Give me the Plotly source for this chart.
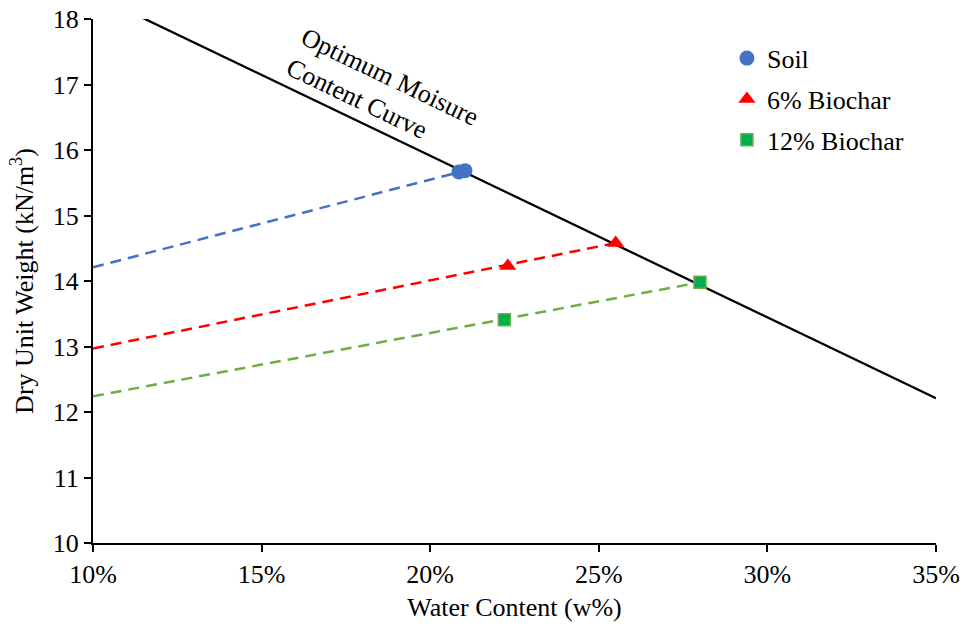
import plotly.graph_objects as go

# Compaction test results: optimum water content (%) and max dry unit weight (kN/m3)
soil_w = [20.85, 21.03]
soil_gd = [15.665, 15.685]
bio6_w = [22.3, 25.5]
bio6_gd = [14.23, 14.58]
bio12_w = [22.2, 28.0]
bio12_gd = [13.41, 13.98]

# Dashed trend lines: value at 10% water content, running up to the last point of each mix
trend_start_w = 10.0
soil_trend_start = 14.21
bio6_trend_start = 12.97
bio12_trend_start = 12.24

# Line of optimums
omc_w = [10.0, 35.0]
omc_gd = [18.38, 12.21]

x_ticks = [10, 15, 20, 25, 30, 35]
y_ticks = [10, 11, 12, 13, 14, 15, 16, 17, 18]

FONT = "Liberation Serif"
FS = 26

BLUE = "#4472C4"
RED = "#FF0000"
GREEN_LINE = "#70AD47"
GREEN_FILL = "#00B050"
DASH = "11px,7px"

fig = go.Figure()

# optimum moisture content curve
fig.add_trace(go.Scatter(x=omc_w, y=omc_gd, mode="lines",
                         line=dict(color="black", width=2.3), showlegend=False,
                         hoverinfo="skip"))

# dashed trend lines
for start, xs, ys, col in [
    (soil_trend_start, soil_w, soil_gd, BLUE),
    (bio6_trend_start, bio6_w, bio6_gd, RED),
    (bio12_trend_start, bio12_w, bio12_gd, GREEN_LINE),
]:
    fig.add_trace(go.Scatter(x=[trend_start_w, xs[-1]], y=[start, ys[-1]], mode="lines",
                             line=dict(color=col, width=2.5, dash=DASH),
                             showlegend=False, hoverinfo="skip"))

# data points
fig.add_trace(go.Scatter(x=soil_w, y=soil_gd, mode="markers", name="Soil",
                         legendgroup="a",
                         marker=dict(symbol="circle", size=15, color=BLUE,
                                     line=dict(width=0))))
fig.add_trace(go.Scatter(x=bio6_w, y=bio6_gd, mode="markers", name="6% Biochar",
                         legendgroup="b",
                         marker=dict(symbol="triangle-up", size=15, color=RED,
                                     line=dict(width=0))))
fig.add_trace(go.Scatter(x=bio12_w, y=bio12_gd, mode="markers", name="12% Biochar",
                         legendgroup="c",
                         marker=dict(symbol="square", size=12, color=GREEN_FILL,
                                     line=dict(width=1.5, color=GREEN_LINE))))

fig.add_annotation(x=18.6, y=16.88, xref="x", yref="y",
                   text="Optimum Moisure<br>Content Curve", showarrow=False,
                   textangle=25.6, align="left",
                   font=dict(family=FONT, size=FS, color="black"))

axis_common = dict(showline=True, linecolor="black", linewidth=2, ticks="outside",
                   ticklen=7, tickwidth=2, tickcolor="black", showgrid=False,
                   zeroline=False, mirror=False, automargin=False,
                   tickfont=dict(family=FONT, size=FS, color="black"))

fig.update_xaxes(range=[10, 35], tickvals=x_ticks, ticktext=[f"{v}%" for v in x_ticks],
                 title=dict(text="Water Content (w%)", standoff=10,
                            font=dict(family=FONT, size=FS, color="black")),
                 **axis_common)
fig.update_yaxes(range=[10, 18], tickvals=y_ticks, ticktext=[str(v) for v in y_ticks],
                 title=dict(text="Dry Unit Weight (kN/m<sup>3</sup>)", standoff=12,
                            font=dict(family=FONT, size=FS, color="black")),
                 **axis_common)

fig.update_layout(
    width=966, height=629,
    margin=dict(l=93, r=30, t=19, b=86),
    plot_bgcolor="white", paper_bgcolor="white",
    font=dict(family=FONT, size=FS, color="black"),
    legend=dict(x=0.752, y=0.97, xanchor="left", yanchor="top",
                bgcolor="rgba(0,0,0,0)", tracegroupgap=4,
                font=dict(family=FONT, size=FS, color="black")),
)

fig.write_html("out.html")
